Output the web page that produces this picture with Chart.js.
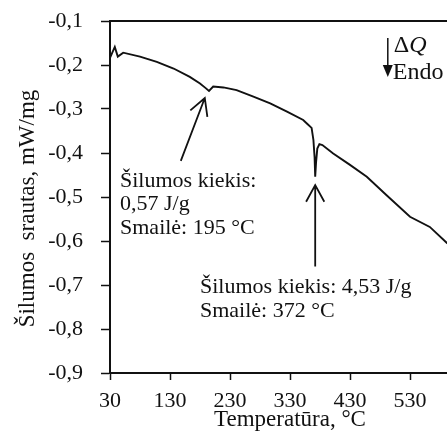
<!DOCTYPE html>
<html lang="lt">
<head>
<meta charset="UTF-8">
<title>DSC kreivė</title>
<script src="https://cdn.jsdelivr.net/npm/chart.js@4"></script>
<style>
  html, body { margin: 0; padding: 0; background: #fff; overflow: hidden; }
  #wrap { width: 447px; height: 445px; overflow: hidden; }
  #wrap canvas { display: block; }
</style>
</head>
<body>
<div id="wrap"><canvas id="dsc" width="472" height="445"></canvas></div>
<script>
// DSC curve: heat flow (mW/mg) against temperature (°C)
const temperatures = [30, 38, 43, 52, 80, 108, 136, 163, 180, 189, 195, 202, 219, 241, 269, 297, 325, 352, 359, 366,
                      369, 371, 372, 373.5, 375.5, 379, 384, 402, 430, 458, 491, 530, 563, 592, 600];
const heatFlow = [-0.184, -0.159, -0.181, -0.172, -0.181, -0.193, -0.208, -0.227, -0.242, -0.252, -0.259, -0.249,
                  -0.251, -0.257, -0.272, -0.287, -0.306, -0.325, -0.334, -0.343, -0.37, -0.41, -0.454, -0.42,
                  -0.39, -0.38, -0.382, -0.401, -0.427, -0.454, -0.496, -0.545, -0.568, -0.605, -0.616];

const xTicks = [30, 130, 230, 330, 430, 530];
const yTicks = [-0.9, -0.8, -0.7, -0.6, -0.5, -0.4, -0.3, -0.2, -0.1];

// peak notes: text anchor (first baseline), arrow tail and tip, all in data units
const peakNotes = [
  { lines: ['Šilumos kiekis:', '0,57 J/g', 'Smailė: 195 °C'], at: [46.7, -0.477], from: [148, -0.418], to: [188, -0.275] },
  { lines: ['Šilumos kiekis: 4,53 J/g', 'Smailė: 372 °C'], at: [180, -0.719], from: [372, -0.658], to: [372, -0.473] }
];

const INK = '#111';
const SERIF = '"Liberation Serif", "Times New Roman", serif';

Chart.defaults.font.family = SERIF;
Chart.defaults.color = INK;

function arrow(ctx, x0, y0, x1, y1, head) {
  const a = Math.atan2(y1 - y0, x1 - x0);
  ctx.beginPath();
  ctx.moveTo(x0, y0);
  ctx.lineTo(x1, y1);
  ctx.moveTo(x1 - head * Math.cos(a - 0.5), y1 - head * Math.sin(a - 0.5));
  ctx.lineTo(x1, y1);
  ctx.lineTo(x1 - head * Math.cos(a + 0.5), y1 - head * Math.sin(a + 0.5));
  ctx.stroke();
}

// scales keep their own edge padding out of the layout
function noEdgePadding(s) {
  s.paddingTop = 0;
  s.paddingBottom = 0;
  s.paddingLeft = 0;
  s.paddingRight = 0;
}

const notes = {
  id: 'notes',
  afterDraw(chart) {
    const { ctx, chartArea, scales: { x, y } } = chart;
    ctx.save();
    ctx.strokeStyle = INK;
    ctx.fillStyle = INK;

    // top frame line
    ctx.lineWidth = 2;
    ctx.beginPath();
    ctx.moveTo(chartArea.left - 1, chartArea.top);
    ctx.lineTo(chartArea.right, chartArea.top);
    ctx.stroke();

    ctx.lineWidth = 1.8;
    ctx.font = '22px ' + SERIF;
    ctx.textBaseline = 'alphabetic';
    ctx.textAlign = 'left';
    peakNotes.forEach(n => {
      arrow(ctx, x.getPixelForValue(n.from[0]), y.getPixelForValue(n.from[1]),
                 x.getPixelForValue(n.to[0]), y.getPixelForValue(n.to[1]), 19);
      const tx = x.getPixelForValue(n.at[0]);
      const ty = y.getPixelForValue(n.at[1]);
      n.lines.forEach((s, i) => ctx.fillText(s, tx, ty + i * 23.5));
    });

    // ΔQ / Endo direction marker
    const ax = x.getPixelForValue(493);
    const ay0 = y.getPixelForValue(-0.1386);
    const ay1 = y.getPixelForValue(-0.227);
    ctx.lineWidth = 1.5;
    ctx.beginPath();
    ctx.moveTo(ax, ay0);
    ctx.lineTo(ax, ay1 - 10);
    ctx.stroke();
    ctx.beginPath();
    ctx.moveTo(ax - 5, ay1 - 12);
    ctx.lineTo(ax + 5, ay1 - 12);
    ctx.lineTo(ax, ay1);
    ctx.closePath();
    ctx.fill();

    const lx = ax + 6;
    ctx.font = '24px ' + SERIF;
    ctx.fillText('Δ', lx, y.getPixelForValue(-0.1698));
    const dw = ctx.measureText('Δ').width;
    ctx.font = 'italic 24px ' + SERIF;
    ctx.fillText('Q', lx + dw, y.getPixelForValue(-0.1698));
    ctx.font = '24px ' + SERIF;
    ctx.fillText('Endo', ax + 5, y.getPixelForValue(-0.2325));
    ctx.restore();
  }
};

new Chart(document.getElementById('dsc'), {
  type: 'line',
  data: {
    datasets: [{
      data: temperatures.map((t, i) => ({ x: t, y: heatFlow[i] })),
      borderColor: INK,
      borderWidth: 1.9,
      pointRadius: 0,
      tension: 0,
      fill: false
    }]
  },
  options: {
    responsive: false,
    animation: false,
    layout: { padding: { top: 21, right: 2, bottom: 0, left: 0 } },
    plugins: { legend: { display: false }, tooltip: { enabled: false } },
    scales: {
      x: {
        type: 'linear',
        min: 30,
        max: 630,
        afterBuildTicks: s => { s.ticks = xTicks.map(v => ({ value: v })); },
        afterFit: s => { s.height = 72; noEdgePadding(s); },
        grid: { drawOnChartArea: false, tickLength: 7, tickColor: INK, tickWidth: 1.5 },
        border: { color: INK, width: 2 },
        ticks: { font: { size: 22 }, padding: 8, maxRotation: 0, autoSkip: false },
        title: { display: true, text: 'Temperatūra, °C', font: { size: 23 }, padding: { top: 0, bottom: 11 } }
      },
      y: {
        min: -0.9,
        max: -0.1,
        afterBuildTicks: s => { s.ticks = yTicks.map(v => ({ value: v })); },
        afterFit: s => { s.width = 110; noEdgePadding(s); },
        grid: { drawOnChartArea: false, tickLength: 9, tickColor: INK, tickWidth: 1.5 },
        border: { color: INK, width: 2 },
        ticks: { font: { size: 22 }, padding: 18, callback: v => v.toFixed(1).replace('.', ',') },
        title: { display: true, text: 'Šilumos  srautas, mW/mg\u2003', font: { size: 23 }, padding: { top: 14, bottom: 0 } }
      }
    }
  },
  plugins: [notes]
});
</script>
</body>
</html>
